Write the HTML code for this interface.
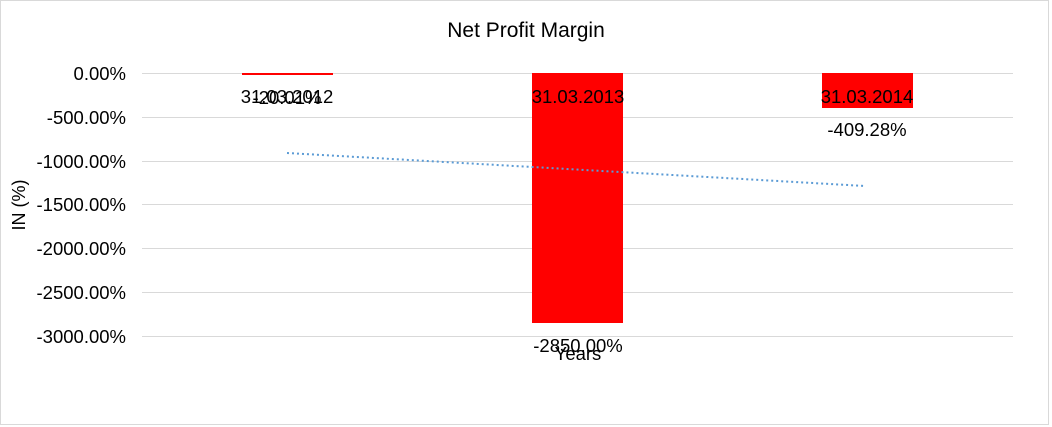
<!DOCTYPE html>
<html><head><style>body{margin:0;background:#fff}svg{display:block}</style></head><body>
<svg width="1052" height="427" viewBox="0 0 1052 427" xmlns="http://www.w3.org/2000/svg" font-family="Liberation Sans, sans-serif">
<rect x="0.5" y="0.5" width="1048" height="424" fill="#fff" stroke="#d9d9d9" stroke-width="1"/>
<text x="526" y="37" font-size="21" text-anchor="middle">Net Profit Margin</text>
<g stroke="#d9d9d9" stroke-width="1">
<line x1="142" x2="1013" y1="73.5" y2="73.5"/>
<line x1="142" x2="1013" y1="117.5" y2="117.5"/>
<line x1="142" x2="1013" y1="161.5" y2="161.5"/>
<line x1="142" x2="1013" y1="204.5" y2="204.5"/>
<line x1="142" x2="1013" y1="248.5" y2="248.5"/>
<line x1="142" x2="1013" y1="292.5" y2="292.5"/>
<line x1="142" x2="1013" y1="336.5" y2="336.5"/>
</g>
<g font-size="18.5" text-anchor="end">
<text x="126" y="80">0.00%</text>
<text x="126" y="124">-500.00%</text>
<text x="126" y="168">-1000.00%</text>
<text x="126" y="211">-1500.00%</text>
<text x="126" y="255">-2000.00%</text>
<text x="126" y="299">-2500.00%</text>
<text x="126" y="343">-3000.00%</text>
</g>
<text transform="translate(25,205) rotate(-90)" font-size="18" text-anchor="middle">IN (%)</text>
<rect x="242" y="73" width="91" height="2" fill="#ff0000"/>
<rect x="532" y="73" width="91" height="250" fill="#ff0000"/>
<rect x="822" y="73" width="91" height="35" fill="#ff0000"/>
<line x1="287" y1="153" x2="865" y2="186" stroke="#5b9bd5" stroke-width="2" stroke-dasharray="2,3"/>
<g font-size="18.5" text-anchor="middle">
<text x="287" y="103">31.03.2012</text>
<text x="287" y="104">-20.01%</text>
<text x="578" y="103">31.03.2013</text>
<text x="867" y="103">31.03.2014</text>
<text x="867" y="136">-409.28%</text>
<text x="578" y="352">-2850.00%</text>
<text x="578" y="360">Years</text>
</g>
</svg>
</body></html>
